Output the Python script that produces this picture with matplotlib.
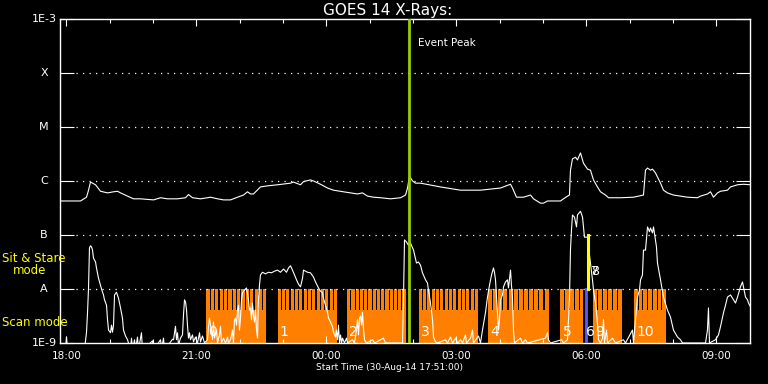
import numpy as np
import matplotlib
matplotlib.use("Agg")
import matplotlib.pyplot as plt

# ---------------- data (time in minutes after 18:00 UT, flux as log10 W/m^2) -------------
long_t = [-8.3, 19.4, 27.7, 30.5, 33.2, 40.2, 47.1, 56.8, 65.1, 70.6, 74.8, 84.5, 92.8, 102.5,
          120.5, 130.2, 139.8, 153.7, 164.8, 168.9, 174.5, 185.5, 195.2, 199.4, 209.1, 217.4,
          227.1, 236.8, 245.1, 250.6, 254.8, 258.9, 268.6, 278.3, 292.2, 310.2, 314.3, 324.0,
          328.2, 337.8, 342.0, 351.7, 361.4, 369.7, 383.5, 393.2, 402.9, 409.8, 416.8, 425.1,
          434.8, 448.6, 462.5, 469.4, 472.2, 474.9, 479.1, 483.2, 490.2, 517.8, 545.5, 573.2,
          600.9, 614.8, 617.5, 623.1, 632.8, 642.5, 646.6, 656.3, 660.5, 666.0, 684.0, 688.1,
          693.7, 696.4, 697.8, 700.6, 704.8, 707.5, 711.7, 715.8, 721.4, 725.5, 729.7, 735.2,
          739.4, 746.3, 750.5, 767.1, 785.1, 798.9, 801.7, 804.5, 808.6, 811.4, 815.5, 822.5,
          826.6, 832.1, 840.4, 859.8, 873.7, 877.8, 887.5, 891.7, 895.8, 901.4, 905.5, 915.2,
          919.4, 929.1, 937.4, 947.1]
long_log = [-6.37, -6.37, -6.30, -6.17, -6.02, -6.07, -6.19, -6.22, -6.20, -6.19, -6.22, -6.28,
            -6.33, -6.33, -6.35, -6.31, -6.33, -6.33, -6.31, -6.25, -6.31, -6.33, -6.31, -6.30,
            -6.33, -6.35, -6.35, -6.30, -6.26, -6.20, -6.24, -6.24, -6.11, -6.09, -6.07, -6.04,
            -6.02, -6.07, -6.01, -5.98, -6.00, -6.06, -6.13, -6.17, -6.20, -6.22, -6.24, -6.22,
            -6.28, -6.30, -6.31, -6.33, -6.31, -6.26, -6.13, -5.91, -6.00, -6.04, -6.04, -6.11,
            -6.17, -6.17, -6.13, -6.06, -6.13, -6.30, -6.30, -6.26, -6.33, -6.41, -6.41, -6.37,
            -6.37, -6.33, -6.28, -6.26, -5.80, -5.59, -5.56, -5.61, -5.48, -5.67, -5.78, -5.80,
            -5.98, -6.11, -6.20, -6.26, -6.31, -6.31, -6.30, -6.26, -5.80, -5.76, -5.80, -5.78,
            -5.85, -6.04, -6.17, -6.22, -6.26, -6.30, -6.31, -6.28, -6.24, -6.20, -6.30, -6.22,
            -6.19, -6.17, -6.11, -6.07, -6.06, -6.07]

short_t = [-8.3, -1.4, 0.0, 1.4, 24.9, 27.7, 29.1, 30.5, 31.8, 33.2, 34.6, 36.0, 37.4, 40.2,
           41.5, 44.3, 47.1, 48.5, 51.2, 52.6, 55.4, 56.8, 58.2, 60.9, 62.3, 63.7, 65.1, 66.5,
           69.2, 72.0, 74.8, 77.5, 78.9, 81.7, 84.5, 85.8, 88.6, 90.0, 91.4, 94.2, 95.5, 98.3,
           99.7, 103.8, 105.2, 119.1, 120.5, 130.2, 131.5, 134.3, 135.7, 146.8, 148.2, 150.9,
           152.3, 153.7, 155.1, 157.8, 160.6, 162.0, 163.4, 164.8, 166.2, 167.5, 168.9, 170.3,
           171.7, 174.5, 175.8, 178.6, 181.4, 184.2, 185.5, 188.3, 191.1, 195.2, 196.6, 198.0,
           199.4, 200.8, 202.2, 203.5, 204.9, 207.7, 209.1, 211.8, 213.2, 214.6, 217.4, 220.2,
           222.9, 224.3, 227.1, 229.8, 231.2, 232.6, 234.0, 235.4, 236.8, 238.1, 239.5, 240.9,
           242.3, 243.7, 246.5, 249.2, 252.0, 253.4, 254.8, 256.2, 257.5, 258.9, 260.3, 261.7,
           263.1, 264.5, 265.8, 267.2, 268.6, 271.4, 275.5, 279.7, 283.8, 288.0, 292.2, 296.3,
           300.5, 304.6, 307.4, 310.2, 312.9, 315.7, 318.5, 321.2, 324.0, 326.8, 328.2, 333.7,
           337.8, 342.0, 344.8, 348.9, 351.7, 354.5, 355.8, 358.6, 361.4, 362.8, 365.5, 368.3,
           369.7, 372.5, 373.8, 375.2, 376.6, 378.0, 379.4, 380.8, 382.2, 384.9, 387.7, 389.1,
           396.0, 398.8, 401.5, 402.9, 404.3, 405.7, 407.1, 408.5, 409.8, 411.2, 412.6, 415.4,
           423.7, 426.5, 438.9, 441.7, 465.2, 466.6, 468.0, 470.8, 473.5, 476.3, 480.5, 484.6,
           487.4, 490.2, 492.9, 497.1, 499.8, 501.2, 504.0, 506.8, 508.2, 510.9, 513.7, 524.8,
           527.5, 531.7, 534.5, 538.6, 541.4, 545.5, 548.3, 552.5, 553.8, 559.4, 562.2, 563.5,
           570.5, 573.2, 576.0, 580.1, 582.9, 585.7, 588.5, 591.2, 592.6, 594.0, 596.8, 598.2,
           599.5, 600.9, 603.7, 605.1, 607.8, 610.6, 612.0, 614.8, 616.1, 617.5, 618.9, 620.3,
           628.6, 631.4, 635.5, 638.3, 663.2, 666.0, 667.4, 670.1, 685.4, 688.1, 693.7, 695.1,
           696.4, 697.8, 699.2, 700.6, 703.4, 706.2, 707.5, 711.7, 714.5, 717.2, 721.4, 722.8,
           725.5, 728.3, 729.7, 732.5, 735.2, 736.6, 739.4, 742.2, 743.5, 744.9, 747.7, 749.1,
           756.0, 760.2, 771.2, 774.0, 783.7, 785.1, 787.8, 790.6, 793.4, 794.8, 797.5, 798.9,
           801.7, 804.5, 807.2, 808.6, 811.4, 812.8, 815.5, 816.9, 818.3, 822.5, 826.6, 832.1,
           836.3, 840.4, 846.0, 850.2, 852.9, 884.8, 887.5, 888.9, 890.3, 898.6, 902.8, 905.5,
           909.7, 912.5, 915.2, 919.4, 923.5, 926.3, 929.1, 933.2, 936.0, 937.4, 940.2, 942.9,
           944.3, 947.1]
short_log = [-9.13, -9.13, -8.89, -9.13, -9.13, -8.80, -8.44, -7.98, -7.24, -7.20, -7.22, -7.28,
             -7.43, -7.50, -7.61, -7.80, -7.93, -8.00, -8.11, -8.20, -8.30, -8.57, -8.76, -8.81,
             -8.67, -8.80, -8.67, -8.11, -8.06, -8.17, -8.35, -8.54, -8.76, -8.87, -8.94, -9.00,
             -9.13, -8.91, -9.13, -8.94, -9.13, -8.89, -9.13, -8.81, -9.13, -8.96, -9.13, -8.94,
             -9.13, -8.91, -9.13, -8.93, -8.94, -8.69, -8.94, -8.81, -9.04, -8.91, -8.85, -8.48,
             -8.20, -8.24, -8.39, -8.67, -8.91, -8.81, -8.94, -8.85, -8.98, -8.89, -9.00, -8.81,
             -8.98, -8.87, -9.00, -8.94, -8.69, -8.54, -8.67, -8.76, -8.94, -8.61, -8.91, -8.76,
             -9.00, -8.85, -8.69, -9.00, -8.91, -9.00, -8.89, -9.00, -8.94, -8.76, -9.00, -8.57,
             -8.54, -8.67, -8.39, -8.30, -8.76, -8.54, -8.20, -8.07, -8.02, -7.98, -8.20, -8.39,
             -8.35, -8.57, -8.26, -8.48, -8.61, -8.39, -8.76, -8.91, -8.20, -7.93, -7.74, -7.69,
             -7.72, -7.69, -7.70, -7.67, -7.65, -7.69, -7.63, -7.69, -7.61, -7.57, -7.65, -7.74,
             -7.83, -7.91, -7.96, -7.80, -7.65, -7.69, -7.70, -7.78, -7.87, -7.98, -8.04, -8.07,
             -8.17, -8.30, -8.43, -8.54, -8.61, -8.70, -8.80, -8.89, -8.76, -8.94, -8.67, -9.00,
             -8.85, -9.00, -8.91, -9.00, -8.91, -9.00, -8.94, -9.00, -8.76, -8.57, -8.85, -8.54,
             -8.50, -8.67, -8.43, -8.72, -8.94, -9.00, -8.94, -9.00, -8.91, -9.00, -9.00, -8.20,
             -7.09, -7.13, -7.19, -7.15, -7.28, -7.52, -7.50, -7.56, -7.70, -7.83, -7.89, -8.02,
             -8.26, -8.57, -8.89, -8.98, -9.00, -8.94, -9.00, -8.89, -9.00, -8.91, -9.00, -8.94,
             -9.00, -8.85, -9.00, -8.91, -8.76, -9.00, -8.87, -9.00, -8.76, -8.44, -8.15, -7.93,
             -7.74, -7.61, -7.69, -7.83, -8.44, -8.76, -8.57, -8.20, -8.11, -7.96, -7.87, -7.83,
             -7.98, -7.65, -7.93, -8.15, -8.76, -9.00, -8.91, -9.00, -8.94, -9.00, -8.91, -8.81,
             -8.94, -9.00, -8.94, -9.00, -8.94, -8.57, -8.20, -7.28, -6.91, -6.63, -6.67, -6.85,
             -6.63, -6.56, -6.67, -7.04, -7.04, -7.22, -7.52, -7.83, -8.02, -8.26, -8.63, -8.94,
             -9.00, -8.91, -8.57, -9.00, -8.76, -9.00, -8.91, -9.00, -8.94, -9.00, -8.76, -9.00,
             -8.57, -8.15, -8.02, -7.83, -7.74, -7.28, -7.28, -6.85, -6.94, -6.87, -6.96, -6.85,
             -7.09, -7.22, -7.52, -7.83, -8.15, -8.39, -8.52, -8.76, -8.89, -8.94, -9.00, -9.00,
             -8.76, -8.35, -9.00, -8.94, -8.85, -8.70, -8.44, -8.30, -8.15, -8.11, -8.20, -8.26,
             -8.15, -7.96, -7.87, -7.96, -8.15, -8.20, -8.26, -8.33]

# scan-mode observation blocks: start / end (minutes after 18:00) and raster steps
block_start = [193.8, 292.2, 388.7, 487.4, 583.6, 684.0, 729.7, 785.8]
block_end = [276.9, 374.8, 469.4, 569.8, 667.4, 715.8, 769.4, 830.1]
block_steps = [14, 14, 14, 14, 12, 5, 6, 7]
block_labels = ["0", "1", "2", "3", "4", "5", "9", "10"]

scan_line_t = 719.6       # single scan observation (blue)
scan_line_label = "6"
stare_line_t = 722.1      # sit & stare observation (yellow)
stare_labels = ["7", "8"]
event_peak_t = 474.9      # 01:55

xtick_pos = [0, 180, 360, 540, 720, 900]
xtick_labels = ["18:00", "21:00", "00:00", "03:00", "06:00", "09:00"]
ylevels = [1e-9, 1e-8, 1e-7, 1e-6, 1e-5, 1e-4, 1e-3]
ylevel_labels = ["1E-9", "A", "B", "C", "M", "X", "1E-3"]

# ---------------- figure ----------------
W, H = 768, 384
fig = plt.figure(figsize=(W / 100, H / 100), dpi=100, facecolor="black")
ax = fig.add_axes([60 / W, 41 / H, 690 / W, 324 / H])
ax.set_facecolor("black")
ax.set_yscale("log")
ax.set_ylim(1e-9, 1e-3)
ax.set_xlim(-9, 946.4)

orange = "#ff8000"
solid_top = 10 ** -8.39
gap_w = 1.6
for s, e, n in zip(block_start, block_end, block_steps):
    ax.bar(s, solid_top - 1e-9, width=e - s, bottom=1e-9, align="edge",
           color=orange, linewidth=0, antialiased=False, zorder=1)
    p = (e - s + gap_w) / n
    for k in range(n):
        ax.bar(s + k * p, 1e-8 - 1e-9, width=p - gap_w, bottom=1e-9, align="edge",
               color=orange, linewidth=0, antialiased=False, zorder=1)

# dotted level lines
for v in ylevels[1:-1]:
    ax.axhline(v, xmin=16 / 690, xmax=674 / 690, color="white", lw=0.9,
               ls=(0, (1, 4.2)), zorder=2)

ax.plot(long_t, 10 ** np.array(long_log), color="white", lw=0.8, zorder=3)
ax.plot(short_t, 10 ** np.array(short_log), color="white", lw=0.8, zorder=3)

ax.axvline(event_peak_t, color="#9acd00", lw=2.0, zorder=4)
ax.annotate("Event Peak", xy=(event_peak_t, 1e-3), xytext=(9, -24),
            textcoords="offset pixels", color="white", fontsize=7.5,
            ha="left", va="center")

ax.plot([scan_line_t, scan_line_t], [1e-9, 1e-8], color="#5a5aff", lw=2.0, zorder=4)
ax.plot([stare_line_t, stare_line_t], [1e-8, 1e-7], color="#ffff00", lw=2.2, zorder=4)

lab_y = 10 ** -8.80
for s, lab in zip(block_start, block_labels):
    ax.annotate(lab, xy=(s, lab_y), xytext=(2, 0), textcoords="offset pixels",
                color="white", fontsize=10, ha="left", va="center", zorder=5)
ax.annotate(scan_line_label, xy=(scan_line_t, lab_y), xytext=(0, 0),
            textcoords="offset pixels", color="white", fontsize=10,
            ha="left", va="center", zorder=5)
for lab in stare_labels:
    ax.annotate(lab, xy=(stare_line_t, 10 ** -7.68), xytext=(3, 0),
                textcoords="offset pixels", color="white", fontsize=9,
                ha="left", va="center", zorder=5)

# axes styling
for sp in ax.spines.values():
    sp.set_color("white")
    sp.set_linewidth(1.0)
ax.set_xticks(xtick_pos)
ax.set_xticklabels(xtick_labels)
ax.set_xticks(np.arange(60, 946, 60), minor=True)
ax.tick_params(axis="x", which="major", direction="in", length=5, width=0.8,
               colors="white", top=True, bottom=True, labelsize=7.5, pad=6)
ax.tick_params(axis="x", which="minor", direction="in", length=3, width=0.8,
               colors="white", top=True, bottom=True)
ax.set_yticks(ylevels)
ax.set_yticklabels([])
ax.yaxis.set_minor_locator(matplotlib.ticker.NullLocator())
ax.tick_params(axis="y", which="major", direction="in", length=10, width=0.8,
               colors="white", left=True, right=True)
for v, lab in zip(ylevels, ylevel_labels):
    ax.annotate(lab, xy=(0, v), xycoords=("axes fraction", "data"),
                xytext=(-16, 0), textcoords="offset pixels", color="white",
                fontsize=8, ha="center", va="center")

fig.text(388 / W, 1 - 10 / H, "GOES 14 X-Rays:", color="white", fontsize=11,
         ha="center", va="center")
fig.text(390 / W, 1 - 368 / H, "Start Time (30-Aug-14 17:51:00)", color="white",
         fontsize=6.5, ha="center", va="center")
fig.text(2 / W, 1 - 258 / H, "Sit & Stare", color="#ffff00", fontsize=8.5,
         ha="left", va="center")
fig.text(13 / W, 1 - 271 / H, "mode", color="#ffff00", fontsize=8.5,
         ha="left", va="center")
fig.text(2 / W, 1 - 323 / H, "Scan mode", color="#ffff00", fontsize=8.5,
         ha="left", va="center")

fig.savefig("out.png", dpi=100, facecolor="black")
